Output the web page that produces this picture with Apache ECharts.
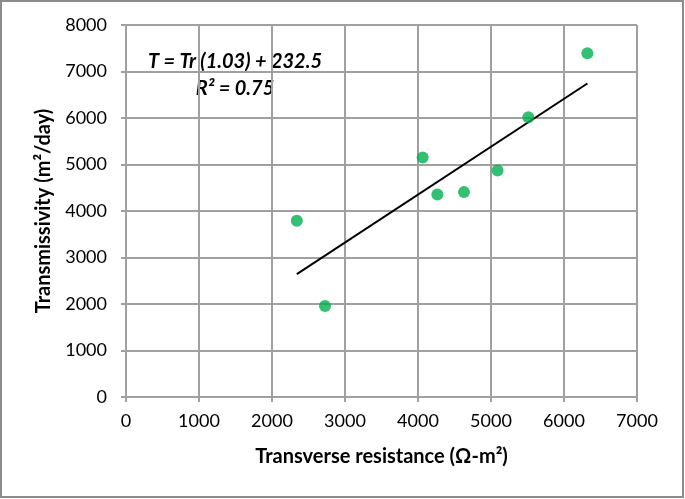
<!DOCTYPE html>
<html>
<head>
<meta charset="utf-8">
<script src="https://cdn.jsdelivr.net/npm/echarts@6/dist/echarts.min.js"></script>
<style>
html,body{margin:0;padding:0;background:#fff;}
#c{width:685px;height:499px;}
</style>
</head>
<body>
<div id="c"></div>
<script>
// Data
const resistance = [2340, 2726, 4064, 4265, 4630, 5090, 5511, 6320];
const transmissivity = [3790, 1957, 5150, 4356, 4406, 4870, 6015, 7390];
// Trend line coefficients (as printed on chart)
const slope = 1.03;
const intercept = 232.5;
const rSquared = 0.75;
const xTicks = [0, 1000, 2000, 3000, 4000, 5000, 6000, 7000];
const yTicks = [0, 1000, 2000, 3000, 4000, 5000, 6000, 7000, 8000];

const points = resistance.map((x, i) => [x, transmissivity[i]]);
const xMin = Math.min(...resistance), xMax = Math.max(...resistance);
const trend = [[xMin, slope * xMin + intercept], [xMax, slope * xMax + intercept]];

const font = 'Lato, "Open Sans", sans-serif';
const gridColor = '#a0a0a0';
const plain = v => String(v);

const chart = echarts.init(document.getElementById('c'), null, {renderer: 'canvas'});
chart.setOption({
  animation: false,
  backgroundColor: '#fff',
  grid: {left: 126, right: 48, top: 25, bottom: 102, containLabel: false},
  xAxis: {
    type: 'value', min: xTicks[0], max: xTicks[xTicks.length - 1], interval: 1000,
    name: 'Transverse resistance (Ω-m²)', nameLocation: 'middle', nameGap: 50,
    nameTextStyle: {fontFamily: font, fontSize: 20, fontWeight: 'bold', color: '#000'},
    axisLine: {show: true, lineStyle: {color: gridColor, width: 2}},
    axisTick: {show: true, length: 5, lineStyle: {color: gridColor, width: 2}},
    axisLabel: {fontFamily: font, fontSize: 18, color: '#000', margin: 15, formatter: plain},
    splitLine: {show: true, lineStyle: {color: gridColor, width: 2}}
  },
  yAxis: {
    type: 'value', min: yTicks[0], max: yTicks[yTicks.length - 1], interval: 1000,
    name: 'Transmissivity (m²/day)', nameLocation: 'middle', nameGap: 72, nameRotate: 90,
    nameTextStyle: {fontFamily: font, fontSize: 20, fontWeight: 'bold', color: '#000'},
    axisLine: {show: true, lineStyle: {color: gridColor, width: 2}},
    axisTick: {show: true, length: 5, lineStyle: {color: gridColor, width: 2}},
    axisLabel: {fontFamily: font, fontSize: 18, color: '#000', margin: 19, formatter: plain},
    splitLine: {show: true, lineStyle: {color: gridColor, width: 2}}
  },
  series: [
    {
      type: 'line', data: trend, showSymbol: false, symbol: 'none',
      lineStyle: {color: '#000', width: 2}, z: 3, silent: true
    },
    {
      type: 'scatter', data: points, symbol: 'circle', symbolSize: 12,
      itemStyle: {color: '#00b050'}, z: 4
    }
  ],
  graphic: [
    {type: 'rect', shape: {x: 1, y: 1, width: 682, height: 496},
     style: {fill: 'none', stroke: '#8c8c8c', lineWidth: 2}, silent: true},
    {type: 'text', x: 235, y: 62,
     style: {text: 'T = Tr (' + slope.toFixed(2) + ') + ' + intercept, fontFamily: font, fontSize: 20,
       fontWeight: 'bold', fontStyle: 'italic', fill: '#000', align: 'center', verticalAlign: 'middle'}},
    {type: 'text', x: 235, y: 89,
     style: {text: 'R² = ' + rSquared.toFixed(2), fontFamily: font, fontSize: 20,
       fontWeight: 'bold', fontStyle: 'italic', fill: '#000', align: 'center', verticalAlign: 'middle'}}
  ]
});
</script>
</body>
</html>
